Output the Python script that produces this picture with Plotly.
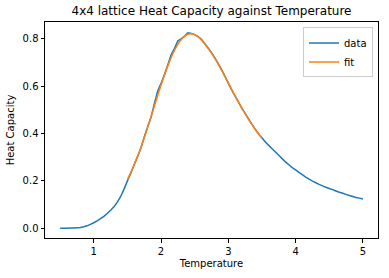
import plotly.graph_objects as go

# Measured data (Temperature, Heat Capacity)
temperature = [0.50, 0.55, 0.60, 0.65, 0.70, 0.75, 0.80, 0.85, 0.90, 0.95,
               1.00, 1.05, 1.10, 1.15, 1.20, 1.25, 1.30, 1.35, 1.40, 1.45,
               1.50, 1.55, 1.60, 1.65, 1.70, 1.75, 1.80, 1.85, 1.90, 1.95,
               2.00, 2.05, 2.10, 2.15, 2.20, 2.25, 2.30, 2.35, 2.40, 2.45,
               2.50, 2.55, 2.60, 2.65, 2.70, 2.75, 2.80, 2.85, 2.90, 2.95,
               3.00, 3.05, 3.10, 3.15, 3.20, 3.25, 3.30, 3.35, 3.40, 3.45,
               3.50, 3.55, 3.60, 3.65, 3.70, 3.75, 3.80, 3.85, 3.90, 3.95,
               4.00, 4.05, 4.10, 4.15, 4.20, 4.25, 4.30, 4.35, 4.40, 4.45,
               4.50, 4.55, 4.60, 4.65, 4.70, 4.75, 4.80, 4.85, 4.90, 4.95,
               5.00]
heat_capacity = [0.000, 0.000, 0.000, 0.001, 0.001, 0.002, 0.003, 0.006, 0.010, 0.016,
                 0.023, 0.031, 0.040, 0.050, 0.062, 0.076, 0.091, 0.110, 0.134, 0.165,
                 0.200, 0.232, 0.268, 0.302, 0.338, 0.385, 0.428, 0.468, 0.525, 0.580,
                 0.612, 0.650, 0.690, 0.733, 0.760, 0.792, 0.800, 0.812, 0.826, 0.823,
                 0.818, 0.810, 0.798, 0.780, 0.762, 0.742, 0.720, 0.696, 0.670, 0.642,
                 0.612, 0.584, 0.558, 0.534, 0.508, 0.485, 0.462, 0.440, 0.418, 0.398,
                 0.382, 0.364, 0.350, 0.336, 0.322, 0.308, 0.294, 0.280, 0.268, 0.256,
                 0.246, 0.236, 0.226, 0.216, 0.207, 0.199, 0.192, 0.185, 0.179, 0.173,
                 0.168, 0.163, 0.157, 0.152, 0.148, 0.143, 0.138, 0.134, 0.130, 0.127,
                 0.123]

# Fitted curve
fit_temperature = [1.50, 1.60, 1.70, 1.80, 1.90, 2.00, 2.10, 2.20, 2.30, 2.40, 2.50,
                   2.60, 2.70, 2.80, 2.90, 3.00, 3.10, 3.20, 3.30, 3.40, 3.50]
fit_heat_capacity = [0.205, 0.268, 0.340, 0.425, 0.515, 0.605, 0.685, 0.752, 0.798, 0.820, 0.818,
                     0.796, 0.760, 0.718, 0.668, 0.614, 0.560, 0.508, 0.460, 0.418, 0.380]

x_ticks = [1, 2, 3, 4, 5]
y_ticks = [0.0, 0.2, 0.4, 0.6, 0.8]

fig = go.Figure()
fig.add_trace(go.Scatter(x=temperature, y=heat_capacity, mode="lines", name="data",
                         line=dict(color="#1f77b4", width=1.5, simplify=False)))
fig.add_trace(go.Scatter(x=fit_temperature, y=fit_heat_capacity, mode="lines", name="fit",
                         line=dict(color="#ff7f0e", width=1.5, shape="spline", simplify=False)))

font = "DejaVu Sans"
axis_common = dict(showline=True, linecolor="black", linewidth=1, mirror=True,
                   ticks="outside", ticklen=3.5, tickwidth=1, tickcolor="black",
                   showgrid=False, zeroline=False,
                   tickfont=dict(family=font, size=10, color="black"))

fig.update_layout(
    width=389, height=278,
    margin=dict(l=44, r=10, t=22, b=38),
    paper_bgcolor="white", plot_bgcolor="white",
    title=dict(text="4x4 lattice Heat Capacity against Temperature",
               x=0.5, xref="paper", xanchor="center", y=0.96, yanchor="middle",
               font=dict(family=font, size=12, color="black")),
    xaxis=dict(range=[0.275, 5.225], tickvals=x_ticks, ticktext=[str(v) for v in x_ticks],
               title=dict(text="Temperature", font=dict(family=font, size=10, color="black"),
                          standoff=4),
               **axis_common),
    yaxis=dict(range=[-0.0415, 0.8715], tickvals=y_ticks,
               ticktext=[f"{v:.1f}" for v in y_ticks],
               title=dict(text="Heat Capacity", font=dict(family=font, size=10, color="black"),
                          standoff=6),
               **axis_common),
    legend=dict(x=0.985, y=0.975, xanchor="right", yanchor="top",
                bgcolor="white", bordercolor="#cccccc", borderwidth=1,
                font=dict(family=font, size=10, color="black"),
                itemwidth=30, tracegroupgap=0),
    showlegend=True,
)

fig.write_html("out.html")
